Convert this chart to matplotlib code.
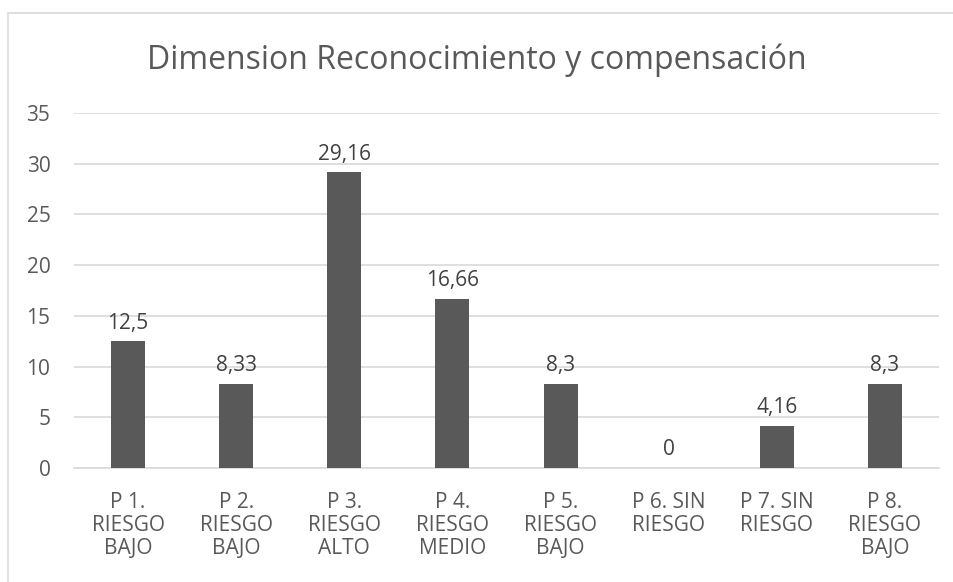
import matplotlib.pyplot as plt
from matplotlib.patches import Rectangle

plt.rcParams['font.family'] = ['Open Sans', 'DejaVu Sans']

categorias = ['P 1.\nRIESGO\nBAJO', 'P 2.\nRIESGO\nBAJO', 'P 3.\nRIESGO\nALTO',
              'P 4.\nRIESGO\nMEDIO', 'P 5.\nRIESGO\nBAJO', 'P 6. SIN\nRIESGO',
              'P 7. SIN\nRIESGO', 'P 8.\nRIESGO\nBAJO']
valores = [12.5, 8.33, 29.16, 16.66, 8.3, 0, 4.16, 8.3]
etiquetas = ['12,5', '8,33', '29,16', '16,66', '8,3', '0', '4,16', '8,3']

gris = '#595959'

fig = plt.figure(figsize=(9.54, 5.82), dpi=100)
# chart border
fig.patches.append(Rectangle((8 / 954, -0.05), 1.0, 1 - 13 / 582 + 0.05,
                             transform=fig.transFigure, fill=False,
                             edgecolor='#d9d9d9', linewidth=1.2))

ax = fig.add_axes([74 / 954, 1 - 468 / 582, (939 - 74) / 954, (468 - 113) / 582])
x = range(len(categorias))
ax.bar(x, valores, width=0.315, color=gris, zorder=3)
for i, (v, t) in enumerate(zip(valores, etiquetas)):
    ax.text(i, v + 1.25, t, ha='center', va='baseline', fontsize=15, color='#404040')

ax.set_ylim(0, 35)
ax.set_xlim(-0.5, len(categorias) - 0.5)
ax.set_yticks(range(0, 36, 5))
ax.set_xticks(list(x))
ax.set_xticklabels(categorias, linespacing=1.15)
ax.tick_params(axis='both', length=0, labelsize=15, labelcolor=gris)
ax.tick_params(axis='x', pad=17)
ax.tick_params(axis='y', pad=17)
ax.grid(axis='y', color='#d9d9d9', linewidth=1.2, zorder=0)
for s in ['top', 'right', 'left']:
    ax.spines[s].set_visible(False)
ax.spines['bottom'].set_color('#d9d9d9')
ax.spines['bottom'].set_linewidth(1.2)

fig.text(0.5, 1 - 60 / 582, 'Dimension Reconocimiento y compensación',
         ha='center', va='center', fontsize=23, color=gris)

fig.savefig('out.png', dpi=100)
